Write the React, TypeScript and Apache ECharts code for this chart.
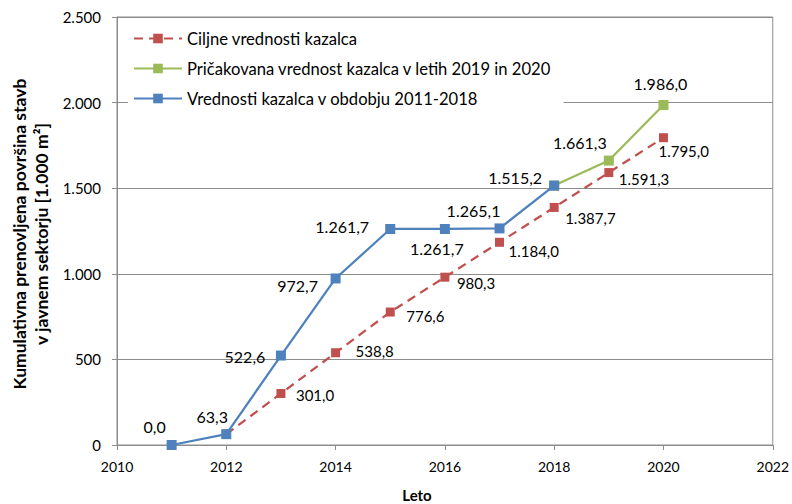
import React, { useEffect, useRef } from "react";
import * as echarts from "echarts";

const actualYears = [2011, 2012, 2013, 2014, 2015, 2016, 2017, 2018];
const actualValues = [0, 63.3, 522.6, 972.7, 1261.7, 1261.7, 1265.1, 1515.2];

const targetYears = [2012, 2013, 2014, 2015, 2016, 2017, 2018, 2019, 2020];
const targetValues = [63.3, 301.0, 538.8, 776.6, 980.3, 1184.0, 1387.7, 1591.3, 1795.0];

const expectedYears = [2018, 2019, 2020];
const expectedValues = [1515.2, 1661.3, 1986.0];

const seriesNames = [
  "Ciljne vrednosti kazalca",
  "Pričakovana vrednost kazalca v letih 2019 in 2020",
  "Vrednosti kazalca v obdobju 2011-2018",
];

const yTicks = [0, 500, 1000, 1500, 2000, 2500];
const xTicks = [2010, 2012, 2014, 2016, 2018, 2020, 2022];

// label placement (style only)
const actualLabelOffsets: [number, number][] = [
  [-17, -19], [-14, -18], [-36, 1], [-38, 7], [-48, -2], [-8, 20], [-26, -18], [-39, -8],
];
const targetLabelOffsets: [number, number][] = [
  [0, 0], [15, 2], [20, -2], [16, 4], [12, 6], [9, 9], [11, 11], [10, 6], [-5, 13],
];
const expectedLabelOffsets: [number, number][] = [[0, 0], [-29, -18], [-3, -21]];

const FONT = "Lato, 'Open Sans', sans-serif";
const BLUE = "#4F81BD";
const RED = "#C0504D";
const GREEN = "#9BBB59";
const GRID = "#8C8C8C";

function fmt(v: number, decimals = 1): string {
  const fixed = v.toFixed(decimals);
  const [intPart, dec] = fixed.split(".");
  const withDots = intPart.replace(/\B(?=(\d{3})+(?!\d))/g, ".");
  return dec !== undefined ? withDots + "," + dec : withDots;
}

export default function App() {
  const ref = useRef<HTMLDivElement>(null);

  useEffect(() => {
    if (!ref.current) return;
    const chart = echarts.init(ref.current, undefined, { renderer: "svg" });

    const targetData = targetYears.map((y, i) => ({
      value: [y, targetValues[i]],
      label: i === 0
        ? { show: false }
        : { show: true, position: "inside", align: "left", offset: targetLabelOffsets[i] },
    }));
    const actualData = actualYears.map((y, i) => ({
      value: [y, actualValues[i]],
      label: { show: true, position: "inside", align: "center", offset: actualLabelOffsets[i] },
    }));
    const expectedData = expectedYears.map((y, i) => ({
      value: [y, expectedValues[i]],
      label: i === 0
        ? { show: false }
        : { show: true, position: "inside", align: "center", offset: expectedLabelOffsets[i] },
    }));

    chart.setOption({
      animation: false,
      backgroundColor: "#ffffff",
      textStyle: { fontFamily: FONT },
      grid: {
        left: 117,
        right: 17,
        top: 17,
        bottom: 59,
        show: true,
        borderColor: GRID,
        borderWidth: 1,
        backgroundColor: "transparent",
      },
      legend: {
        orient: "vertical",
        left: 128,
        top: 21,
        padding: [9, 12, 10, 5],
        backgroundColor: "#ffffff",
        itemWidth: 48,
        itemHeight: 12,
        itemGap: 13,
        textStyle: { fontFamily: FONT, fontSize: 16.6, color: "#000" },
        data: seriesNames,
      },
      xAxis: {
        type: "value",
        min: 2010,
        max: 2022,
        interval: 2,
        splitLine: { show: false },
        axisLine: { show: true, lineStyle: { color: GRID, width: 1 } },
        axisTick: { show: true, length: 5, lineStyle: { color: GRID } },
        axisLabel: {
          fontFamily: FONT,
          fontSize: 14,
          color: "#000",
          margin: 14,
          formatter: (v: number) => (xTicks.includes(v) ? String(v) : ""),
        },
      },
      yAxis: {
        type: "value",
        min: 0,
        max: 2500,
        interval: 500,
        splitLine: { show: true, lineStyle: { color: GRID, width: 1 } },
        axisLine: { show: true, lineStyle: { color: GRID, width: 1 } },
        axisTick: { show: true, length: 5, lineStyle: { color: GRID } },
        axisLabel: {
          fontFamily: FONT,
          fontSize: 15,
          color: "#000",
          margin: 16,
          formatter: (v: number) => (yTicks.includes(v) ? fmt(v, 0) : ""),
        },
      },
      graphic: [
        {
          type: "text",
          x: 30,
          y: 234,
          rotation: Math.PI / 2,
          style: {
            text: "Kumulativna prenovljena površina stavb\nv javnem sektorju [1.000 m²]",
            font: `bold 17.5px ${FONT}`,
            fill: "#000",
            textAlign: "center",
            textVerticalAlign: "middle",
            lineHeight: 22,
          },
        },
        {
          type: "text",
          x: 417,
          y: 495,
          style: {
            text: "Leto",
            font: `bold 15px ${FONT}`,
            fill: "#000",
            textAlign: "center",
            textVerticalAlign: "middle",
          },
        },
      ],
      series: [
        {
          name: seriesNames[0],
          type: "line",
          data: targetData,
          symbol: "rect",
          symbolSize: 9,
          lineStyle: { color: RED, width: 2.25, type: [9, 6] },
          itemStyle: { color: RED },
          label: { fontFamily: FONT, fontSize: 15, color: "#000", formatter: (p: any) => fmt(p.value[1]) },
          z: 2,
        },
        {
          name: seriesNames[1],
          type: "line",
          data: expectedData,
          symbol: "rect",
          symbolSize: 10,
          lineStyle: { color: GREEN, width: 2.25 },
          itemStyle: { color: GREEN },
          label: { fontFamily: FONT, fontSize: 16, color: "#000", formatter: (p: any) => fmt(p.value[1]) },
          z: 3,
        },
        {
          name: seriesNames[2],
          type: "line",
          data: actualData,
          symbol: "rect",
          symbolSize: 10,
          lineStyle: { color: BLUE, width: 2.25 },
          itemStyle: { color: BLUE },
          label: { fontFamily: FONT, fontSize: 16, color: "#000", formatter: (p: any) => fmt(p.value[1]) },
          z: 4,
        },
      ],
    });

    return () => chart.dispose();
  }, []);

  return <div ref={ref} style={{ width: 792, height: 504, position: "absolute", left: 0, top: 0 }} />;
}
